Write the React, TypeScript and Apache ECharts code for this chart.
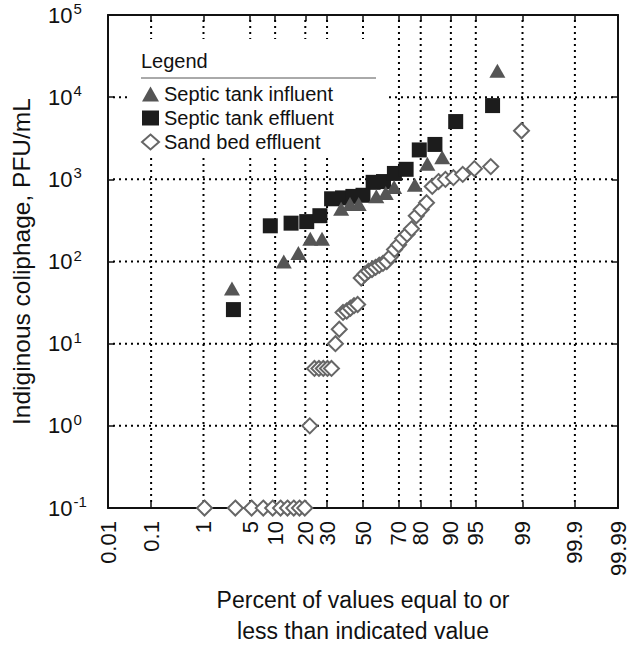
import React, { useEffect, useRef } from 'react';
import * as echarts from 'echarts';

const xTickLabels = ['0.01', '0.1', '1', '5', '10', '20', '30', '50', '70', '80', '90', '95', '99', '99.9', '99.99'];
const xTickPercents = [0.01, 0.1, 1, 5, 10, 20, 30, 50, 70, 80, 90, 95, 99, 99.9, 99.99];
const yTickValues = [0.1, 1, 10, 100, 1000, 10000, 100000];

const influentPercent = [2.8, 12.4, 17.3, 22.1, 27.5, 37.5, 42.5, 47.5, 57.7, 63, 67.5, 77.5, 82.6, 87.6, 97.5];
const influentValue = [47, 100, 127, 189, 189, 440, 500, 500, 624, 684, 805, 858, 1545, 1853, 21000];

const effluentPercent = [2.94, 8.82, 14.71, 20.59, 26.47, 32.35, 38.24, 44.12, 50, 55.88, 61.76, 67.65, 73.53, 79.41, 85.29, 91.18, 97.06];
const effluentValue = [26, 272, 293, 306, 361, 580, 595, 620, 640, 920, 940, 1180, 1325, 2280, 2660, 5050, 7900];

const sandPercent = [1.04, 3.13, 5.21, 7.29, 9.38, 11.46, 13.54, 15.63, 17.71, 19.79, 21.88, 23.96, 26.04, 28.13, 30.21, 32.29, 34.38, 36.46, 38.54, 40.63, 42.71, 44.79, 46.88, 48.96, 51.04, 53.13, 55.21, 57.29, 59.38, 61.46, 63.54, 65.63, 67.71, 69.79, 71.88, 73.96, 76.04, 78.13, 80.21, 82.29, 84.38, 86.46, 88.54, 90.63, 92.71, 94.79, 96.88, 98.96];
const sandValue = [0.1, 0.1, 0.1, 0.1, 0.1, 0.1, 0.1, 0.1, 0.1, 0.1, 1, 5, 5, 5, 5, 5, 10, 15, 24, 25, 27, 29, 30, 63, 70, 76, 80, 85, 90, 95, 100, 115, 140, 160, 190, 215, 250, 360, 430, 520, 820, 940, 1000, 1050, 1150, 1350, 1430, 3900];

const seriesNames = ['Septic tank influent', 'Septic tank effluent', 'Sand bed effluent'];

// inverse standard normal CDF (probability-paper transform)
function probit(p: number): number {
  const a = [-3.969683028665376e1, 2.209460984245205e2, -2.759285104469687e2, 1.38357751867269e2, -3.066479806614716e1, 2.506628277459239];
  const b = [-5.447609879822406e1, 1.615858368580409e2, -1.556989798598866e2, 6.680131188771972e1, -1.328068155288572e1];
  const c = [-7.784894002430293e-3, -3.223964580411365e-1, -2.400758277161838, -2.549732539343734, 4.374664141464968, 2.938163982698783];
  const d = [7.784695709041462e-3, 3.224671290700398e-1, 2.445134137142996, 3.754408661907416];
  const pl = 0.02425;
  if (p < pl) {
    const q = Math.sqrt(-2 * Math.log(p));
    return (((((c[0] * q + c[1]) * q + c[2]) * q + c[3]) * q + c[4]) * q + c[5]) / ((((d[0] * q + d[1]) * q + d[2]) * q + d[3]) * q + 1);
  }
  if (p <= 1 - pl) {
    const q = p - 0.5;
    const r = q * q;
    return ((((((a[0] * r + a[1]) * r + a[2]) * r + a[3]) * r + a[4]) * r + a[5]) * q) / (((((b[0] * r + b[1]) * r + b[2]) * r + b[3]) * r + b[4]) * r + 1);
  }
  const q = Math.sqrt(-2 * Math.log(1 - p));
  return -(((((c[0] * q + c[1]) * q + c[2]) * q + c[3]) * q + c[4]) * q + c[5]) / ((((d[0] * q + d[1]) * q + d[2]) * q + d[3]) * q + 1);
}

const FONT = '"Liberation Sans", Arial, Helvetica, sans-serif';
const INK = '#111';
const DOT = 2;
const DOT_STEP = 6;

function dottedLine(x1: number, y1: number, x2: number, y2: number) {
  const len = Math.hypot(x2 - x1, y2 - y1);
  const n = Math.floor(len / DOT_STEP);
  const children: any[] = [];
  for (let i = 1; i < n; i++) {
    const t = (i * DOT_STEP) / len;
    const cx = x1 + (x2 - x1) * t;
    const cy = y1 + (y2 - y1) * t;
    children.push({ type: 'rect', shape: { x: cx - DOT / 2, y: cy - DOT / 2, width: DOT, height: DOT }, style: { fill: '#000' }, silent: true });
  }
  return { type: 'group', children, silent: true };
}

export default function App() {
  const ref = useRef<HTMLDivElement>(null);
  useEffect(() => {
    if (!ref.current) return;
    const chart = echarts.init(ref.current, null, { renderer: 'svg' });
    const xTicksZ = xTickPercents.map((p) => probit(p / 100));
    const zMin = xTicksZ[0];
    const zMax = xTicksZ[xTicksZ.length - 1];
    const yMin = yTickValues[0];
    const yMax = yTickValues[yTickValues.length - 1];
    const xFmt = (v: number) => {
      let best = 0;
      for (let i = 1; i < xTicksZ.length; i++) if (Math.abs(xTicksZ[i] - v) < Math.abs(xTicksZ[best] - v)) best = i;
      return xTickLabels[best];
    };
    const toPts = (ps: number[], vs: number[]) => ps.map((p, i) => [probit(p / 100), vs[i]]);
    const tick = { show: true, inside: true, length: 6, lineStyle: { color: INK, width: 1.5 } };

    const option: any = {
      animation: false,
      backgroundColor: '#fff',
      textStyle: { fontFamily: FONT },
      grid: { left: 108, top: 15, width: 510, height: 509, show: false },
      xAxis: [
        {
          type: 'value', min: zMin, max: zMax, position: 'bottom',
          axisLine: { show: true, onZero: false, lineStyle: { color: INK, width: 2 } },
          axisTick: { ...tick, customValues: xTicksZ },
          axisLabel: { customValues: xTicksZ, rotate: 90, margin: 13, fontSize: 22, color: INK, fontFamily: FONT, formatter: xFmt },
          splitLine: { show: false },
          name: 'Percent of values equal to or\nless than indicated value',
          nameLocation: 'middle', nameGap: 75,
          nameTextStyle: { fontSize: 23, lineHeight: 31, color: INK, fontFamily: FONT },
        },
        {
          type: 'value', min: zMin, max: zMax, position: 'top',
          axisLine: { show: true, onZero: false, lineStyle: { color: INK, width: 2 } },
          axisTick: { ...tick, customValues: xTicksZ },
          axisLabel: { show: false },
          splitLine: { show: false },
        },
      ],
      yAxis: [
        {
          type: 'log', logBase: 10, min: yMin, max: yMax, position: 'left',
          axisLine: { show: true, onZero: false, lineStyle: { color: INK, width: 2 } },
          axisTick: { ...tick, customValues: yTickValues },
          axisLabel: {
            customValues: yTickValues, align: 'left', margin: 60, color: INK, fontFamily: FONT,
            formatter: (v: number) => `{b|10}{s|${Math.round(Math.log10(v))}}`,
            rich: {
              b: { fontSize: 22, color: INK, fontFamily: FONT },
              s: { fontSize: 15, color: INK, fontFamily: FONT, padding: [0, 0, 13, 1] },
            },
          },
          splitLine: { show: false },
          minorTick: { show: false },
          name: 'Indiginous coliphage, PFU/mL',
          nameLocation: 'middle', nameGap: 74,
          nameTextStyle: { fontSize: 24.5, color: INK, fontFamily: FONT },
        },
        {
          type: 'log', logBase: 10, min: yMin, max: yMax, position: 'right',
          axisLine: { show: true, onZero: false, lineStyle: { color: INK, width: 2 } },
          axisTick: { ...tick, customValues: yTickValues },
          axisLabel: { show: false },
          splitLine: { show: false },
        },
      ],
      legend: {
        data: seriesNames, orient: 'vertical', left: 136, top: 79,
        itemWidth: 17, itemHeight: 15, itemGap: 4, selectedMode: false, z: 10,
        textStyle: { fontSize: 20, color: INK, fontFamily: FONT },
      },
      graphic: [
        { type: 'rect', shape: { x: 131, y: 39, width: 254, height: 119 }, style: { fill: '#fff' }, z: 5, silent: true },
        { type: 'text', x: 141, y: 61, style: { text: 'Legend', fontSize: 20, fill: INK, fontFamily: FONT, verticalAlign: 'middle' }, z: 11 },
        { type: 'line', shape: { x1: 141, y1: 78, x2: 376, y2: 78 }, style: { stroke: '#555', lineWidth: 1 }, z: 11 },
      ],
      series: [
        {
          name: 'vgrid', type: 'custom', silent: true, z: 1, clip: false,
          data: xTicksZ.slice(1, -1).map((v) => [v, 1]),
          renderItem: (_p: any, api: any) => {
            const x = api.value(0);
            const a = api.coord([x, yMax]);
            const b = api.coord([x, yMin]);
            return dottedLine(a[0], a[1], b[0], b[1]);
          },
        },
        {
          name: 'hgrid', type: 'custom', silent: true, z: 1, clip: false,
          data: yTickValues.slice(1, -1).map((v) => [0, v]),
          renderItem: (_p: any, api: any) => {
            const y = api.value(1);
            const a = api.coord([zMin, y]);
            const b = api.coord([zMax, y]);
            return dottedLine(a[0], a[1], b[0], b[1]);
          },
        },
        {
          name: seriesNames[1], type: 'scatter', symbol: 'rect', symbolSize: 15, z: 2,
          itemStyle: { color: '#1c1c1c', opacity: 1 }, data: toPts(effluentPercent, effluentValue),
        },
        {
          name: seriesNames[0], type: 'scatter', symbol: 'triangle', symbolSize: [16, 14], z: 3,
          itemStyle: { color: '#555555', opacity: 1 }, data: toPts(influentPercent, influentValue),
        },
        {
          name: seriesNames[2], type: 'scatter', symbol: 'diamond', symbolSize: 15, z: 4,
          itemStyle: { color: '#ffffff', borderColor: '#666666', borderWidth: 2, opacity: 1 }, data: toPts(sandPercent, sandValue),
        },
      ],
    };
    chart.setOption(option);
    return () => chart.dispose();
  }, []);
  return <div ref={ref} style={{ position: 'fixed', left: 0, top: 0, width: 631, height: 651, background: '#fff' }} />;
}
